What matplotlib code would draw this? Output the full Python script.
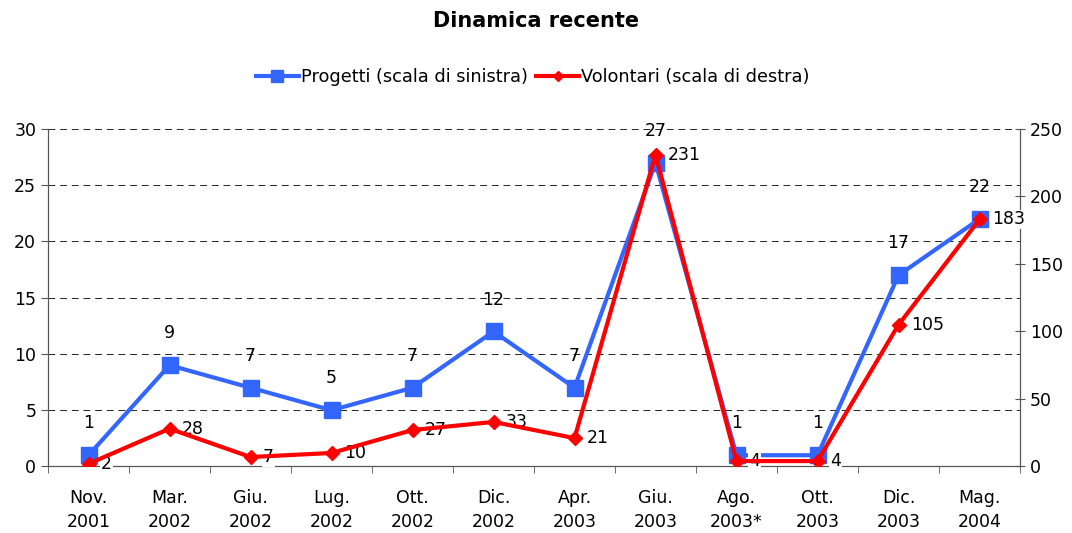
import matplotlib.pyplot as plt
import numpy as np

plt.rcParams['font.family'] = 'DejaVu Sans'

# dati
periodi = ['Nov.\n2001', 'Mar.\n2002', 'Giu.\n2002', 'Lug.\n2002', 'Ott.\n2002', 'Dic.\n2002',
           'Apr.\n2003', 'Giu.\n2003', 'Ago.\n2003*', 'Ott.\n2003', 'Dic.\n2003', 'Mag.\n2004']
progetti = [1, 9, 7, 5, 7, 12, 7, 27, 1, 1, 17, 22]
volontari = [2, 28, 7, 10, 27, 33, 21, 231, 4, 4, 105, 183]

blu = '#3366FF'
rosso = '#FF0000'
fs = 12.5

fig = plt.figure(figsize=(10.72, 5.33), dpi=100)
ax = fig.add_axes([0.0448, 0.1248, 0.9067, 0.6332])
ax2 = ax.twinx()

x = np.arange(len(periodi))

l1, = ax.plot(x, progetti, color=blu, lw=3, marker='s', markersize=11,
              label='Progetti (scala di sinistra)', zorder=3)
l2, = ax2.plot(x, volontari, color=rosso, lw=3, marker='D', markersize=7,
               label='Volontari (scala di destra)', zorder=4)

ax.set_zorder(2)
ax2.set_zorder(3)
ax.patch.set_visible(False)

for xi, v in zip(x, progetti):
    ax.annotate(str(v), (xi, v), xytext=(0, 23), textcoords='offset points',
                ha='center', va='center', fontsize=fs)
for xi, v in zip(x, volontari):
    ax2.annotate(str(v), (xi, v), xytext=(9, 0), textcoords='offset points',
                 ha='left', va='center', fontsize=fs,
                 bbox=dict(boxstyle='square,pad=0.05', fc='white', ec='none'))

ax.set_xlim(-0.5, len(periodi) - 0.5)
ax.set_ylim(0, 30)
ax.set_yticks(np.arange(0, 31, 5))
ax2.set_ylim(0, 250)
ax2.set_yticks(np.arange(0, 251, 50))

ax.set_xticks(x)
ax.set_xticklabels(periodi, fontsize=fs, linespacing=1.45)
ax.set_xticks(np.arange(-0.5, len(periodi), 1), minor=True)
ax.tick_params(axis='x', which='major', length=0, pad=16)
ax.tick_params(axis='x', which='minor', length=5, direction='out', color='#555555')
ax.tick_params(axis='y', labelsize=fs, length=5, color='#555555')
ax2.tick_params(axis='y', labelsize=fs, length=7, direction='inout', color='#555555')

ax.yaxis.grid(True, linestyle=(0, (7, 5)), color='#222222', lw=0.7)
ax.set_axisbelow(True)

for a in (ax, ax2):
    a.spines['top'].set_visible(False)
    for s in ('left', 'right', 'bottom'):
        a.spines[s].set_color('#555555')

fig.suptitle('Dinamica recente', fontsize=15, fontweight='bold', y=0.98)
fig.legend(handles=[l1, l2], loc='center', bbox_to_anchor=(0.497, 0.855), ncol=2,
           frameon=False, fontsize=12.8, handlelength=2.4, handletextpad=0.1,
           columnspacing=0.5, markerscale=0.8)

fig.savefig('out.png', dpi=100)
